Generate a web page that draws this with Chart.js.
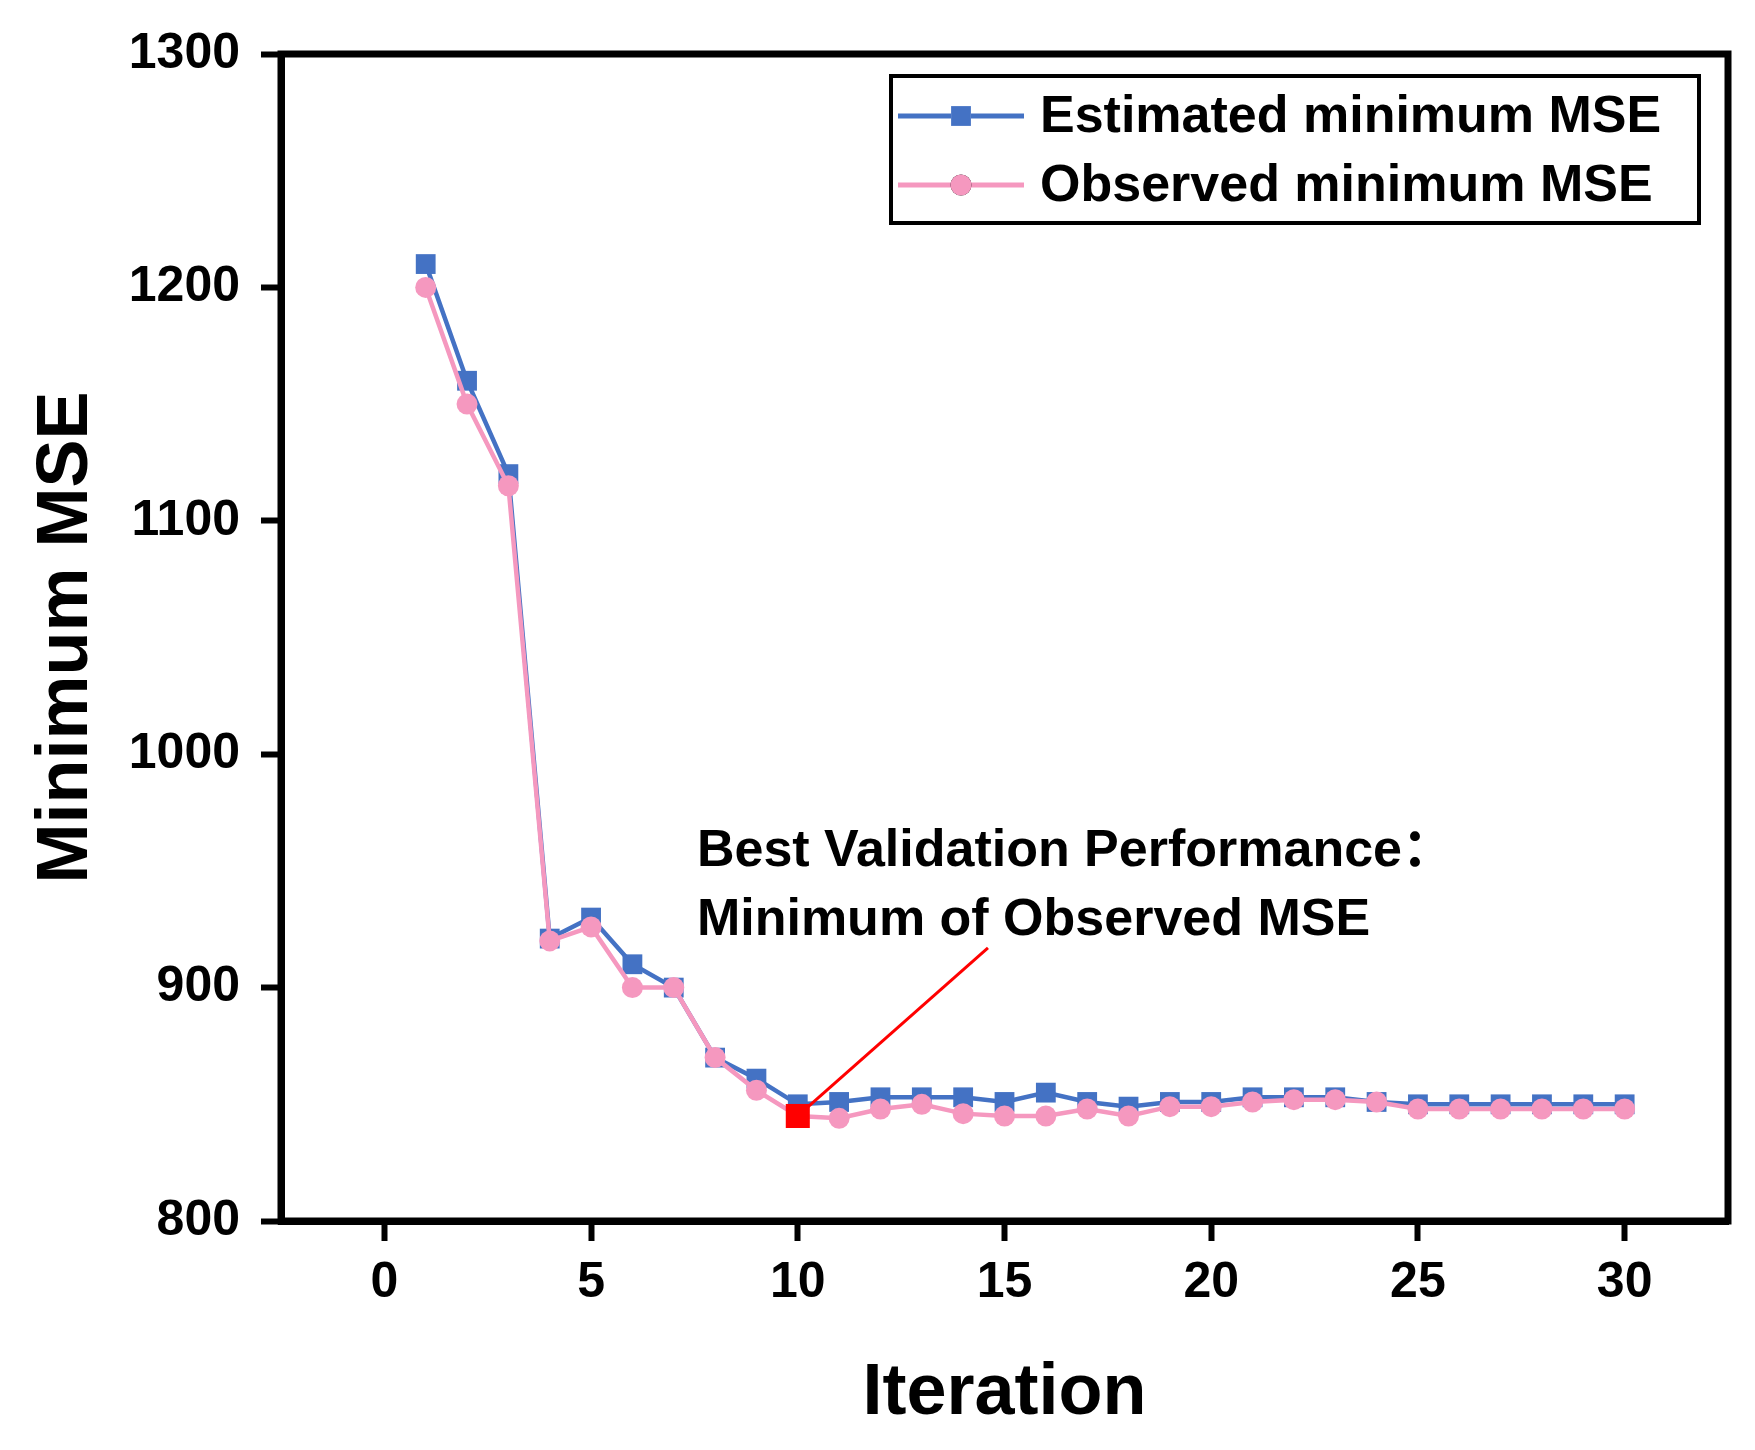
<!DOCTYPE html>
<html>
<head>
<meta charset="utf-8">
<title>Minimum MSE vs Iteration</title>
<script src="https://cdn.jsdelivr.net/npm/chart.js@4/dist/chart.umd.min.js"></script>
<style>
  html, body { margin: 0; padding: 0; background: #fff; }
  #chart { display: block; }
</style>
</head>
<body>
<canvas id="chart" width="1755" height="1450" style="width:1755px;height:1450px"></canvas>
<script>
/* global Chart */

const iterations = [1, 2, 3, 4, 5, 6, 7, 8, 9, 10, 11, 12, 13, 14, 15,
  16, 17, 18, 19, 20, 21, 22, 23, 24, 25, 26, 27, 28, 29, 30];
const estimatedMse = [1210, 1160, 1120, 921, 930, 910, 900, 870, 861, 850,
  851, 853, 853, 853, 851, 855, 851, 849, 851, 851,
  853, 853, 853, 851, 850, 850, 850, 850, 850, 850];
const observedMse = [1200, 1150, 1115, 920, 926, 900, 900, 870, 856, 845,
  844, 848, 850, 846, 845, 845, 848, 845, 849, 849,
  851, 852, 852, 851, 848, 848, 848, 848, 848, 848];

const bestIteration = [10];
const bestMse = [845];
const leaderX = [10, 14.6];
const leaderY = [845, 917];

const xTicks = [0, 5, 10, 15, 20, 25, 30];
const yTicks = [800, 900, 1000, 1100, 1200, 1300];

const noteLines = ["Best Validation Performance：", "Minimum of Observed MSE"];
const noteAt = { x: 7.56, y: [952, 922.5] };

const FONT = '"Liberation Sans", Arial, "Noto Sans CJK SC", sans-serif';
const BLUE = "#4472c4";
const PINK = "#f598bf";
const RED = "#ff0000";

function points(xs, ys) {
  return xs.map((x, i) => ({ x, y: ys[i] }));
}

const framePlugin = {
  id: "frame",
  afterDraw(chart) {
    const { ctx, chartArea: a } = chart;
    ctx.save();
    ctx.strokeStyle = "#000";
    ctx.lineWidth = 7;
    ctx.strokeRect(a.left, a.top, a.right - a.left, a.bottom - a.top);
    ctx.restore();
  },
};

const notePlugin = {
  id: "note",
  afterDatasetsDraw(chart) {
    const { ctx, scales } = chart;
    ctx.save();
    ctx.fillStyle = "#000";
    ctx.font = `bold 52px ${FONT}`;
    ctx.textAlign = "left";
    ctx.textBaseline = "alphabetic";
    const x = scales.x.getPixelForValue(noteAt.x);
    noteLines.forEach((line, i) => {
      ctx.fillText(line, x, scales.y.getPixelForValue(noteAt.y[i]));
    });
    ctx.restore();
  },
};

const legendPlugin = {
  id: "boxLegend",
  afterDraw(chart) {
    const { ctx } = chart;
    const box = { left: 891, top: 76, right: 1699, bottom: 223 };
    const rows = [116, 185];
    ctx.save();
    ctx.fillStyle = "#fff";
    ctx.fillRect(box.left, box.top, box.right - box.left, box.bottom - box.top);
    ctx.strokeStyle = "#000";
    ctx.lineWidth = 4;
    ctx.strokeRect(box.left, box.top, box.right - box.left, box.bottom - box.top);

    chart.data.datasets.slice(0, 2).forEach((ds, i) => {
      const y = rows[i];
      ctx.strokeStyle = ds.borderColor;
      ctx.lineWidth = 5;
      ctx.beginPath();
      ctx.moveTo(898, y);
      ctx.lineTo(1024, y);
      ctx.stroke();
      Chart.helpers.drawPoint(ctx, {
        pointStyle: ds.pointStyle,
        radius: ds.pointRadius,
        borderWidth: 0,
      }, 961, y);
      ctx.fillStyle = ds.pointBackgroundColor;
      ctx.fill();

      ctx.fillStyle = "#000";
      ctx.font = `bold 52px ${FONT}`;
      ctx.textAlign = "left";
      ctx.textBaseline = "middle";
      ctx.fillText(ds.label, 1040, y + 2);
    });
    ctx.restore();
  },
};

const axisTicks = (values) => (scale) => {
  scale.ticks = values.map((v) => ({ value: v }));
};

new Chart(document.getElementById("chart"), {
  type: "line",
  data: {
    datasets: [
      {
        label: "Estimated minimum MSE",
        data: points(iterations, estimatedMse),
        borderColor: BLUE,
        backgroundColor: BLUE,
        pointBackgroundColor: BLUE,
        pointBorderWidth: 0,
        pointStyle: "rect",
        pointRadius: 14,
        borderWidth: 4.5,
        tension: 0,
        order: 3,
      },
      {
        label: "Observed minimum MSE",
        data: points(iterations, observedMse),
        borderColor: PINK,
        backgroundColor: PINK,
        pointBackgroundColor: PINK,
        pointBorderWidth: 0,
        pointStyle: "circle",
        pointRadius: 10.5,
        borderWidth: 4.5,
        tension: 0,
        order: 2,
      },
      {
        label: "leader",
        data: points(leaderX, leaderY),
        borderColor: RED,
        borderWidth: 3,
        pointRadius: 0,
        order: 1,
      },
      {
        label: "best",
        data: points(bestIteration, bestMse),
        showLine: false,
        pointStyle: "rect",
        pointRadius: 17,
        pointBackgroundColor: RED,
        pointBorderWidth: 0,
        order: 0,
      },
    ],
  },
  options: {
    responsive: false,
    devicePixelRatio: 1,
    animation: false,
    layout: { padding: { top: 54, right: 27, left: 0, bottom: 0 } },
    plugins: {
      legend: { display: false },
      tooltip: { enabled: false },
    },
    scales: {
      x: {
        type: "linear",
        min: -2.5,
        max: 32.5,
        afterBuildTicks: axisTicks(xTicks),
        afterFit(scale) { scale.height = 229; },
        grid: {
          drawOnChartArea: false,
          drawTicks: true,
          tickLength: 20,
          tickWidth: 6,
          tickColor: "#000",
        },
        border: { display: true, width: 7, color: "#000" },
        ticks: {
          color: "#000",
          padding: 12,
          maxRotation: 0,
          callback: (v) => String(v),
          font: { family: FONT, size: 50, weight: "bold" },
        },
        title: {
          display: true,
          text: "Iteration",
          color: "#000",
          padding: { top: 0, bottom: 13 },
          font: { family: FONT, size: 72, weight: "bold" },
        },
      },
      y: {
        type: "linear",
        min: 800,
        max: 1300,
        afterBuildTicks: axisTicks(yTicks),
        afterFit(scale) { scale.width = 281; },
        grid: {
          drawOnChartArea: false,
          drawTicks: true,
          tickLength: 20,
          tickWidth: 6,
          tickColor: "#000",
        },
        border: { display: true, width: 7, color: "#000" },
        ticks: {
          color: "#000",
          padding: 21,
          callback: (v) => String(v),
          font: { family: FONT, size: 50, weight: "bold" },
        },
        title: {
          display: true,
          text: "Minimum MSE",
          color: "#000",
          padding: { top: 24, bottom: 0 },
          font: { family: FONT, size: 72, weight: "bold" },
        },
      },
    },
  },
  plugins: [framePlugin, notePlugin, legendPlugin],
});
</script>
</body>
</html>
